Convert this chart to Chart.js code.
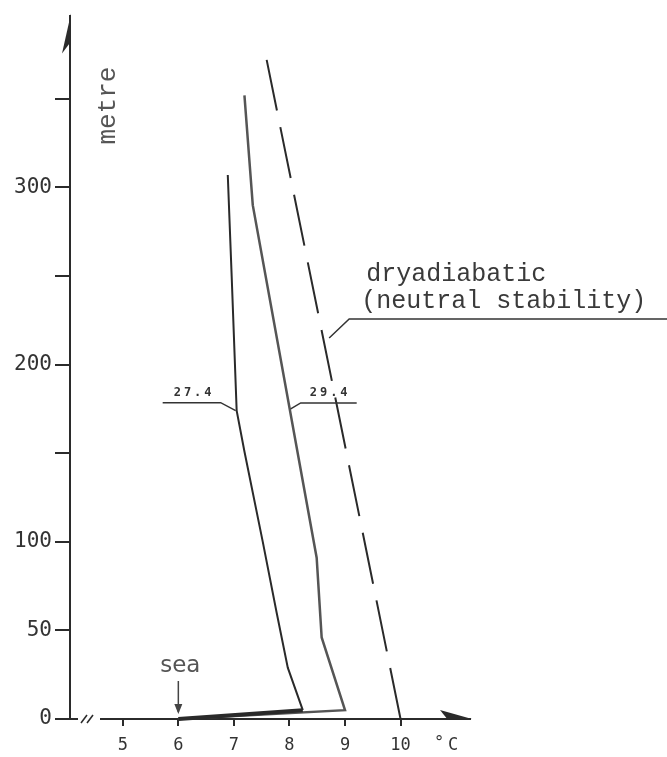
<!DOCTYPE html>
<html>
<head>
<meta charset="utf-8">
<script src="https://cdn.jsdelivr.net/npm/chart.js@4.4.1/dist/chart.umd.min.js"></script>
<style>
  html, body { margin: 0; padding: 0; background: #fff; }
  canvas { display: block; }
</style>
</head>
<body>
<canvas id="profile" width="667" height="757"></canvas>
<script>
// temperature profiles over the sea, height in metres
const seaTemp = 6;
const heights274 = [0, 5, 29, 60, 100, 151, 174, 250, 307];
const temps274 = [6.0, 8.24, 7.97, 7.77, 7.52, 7.19, 7.05, 6.96, 6.89];
const heights294 = [0, 5, 46, 91, 290, 352];
const temps294 = [6.0, 9.0, 8.58, 8.49, 7.34, 7.19];
const heightsDry = [0, 372];
const tempsDry = [10.0, 7.59];

const curveLabels = ["27.4", "29.4"];
const labelHeights = [174, 175];
const dryLabel = ["dryadiabatic", "(neutral stability)"];
const dryLabelHeight = 215;

const xTickValues = [5, 6, 7, 8, 9, 10];
const yTicksShown = [0, 50, 100, 200, 300];

const ink = "#2b2b2b";

function pts(temps, heights) {
    return temps.map((t, i) => ({ x: t, y: heights[i] }));
}

// temperature on a profile at a given height
function tempAt(temps, heights, h) {
    for (let i = 1; i < heights.length; i++) {
        if (h <= heights[i]) {
            const f = (h - heights[i - 1]) / (heights[i] - heights[i - 1]);
            return temps[i - 1] + f * (temps[i] - temps[i - 1]);
        }
    }
    return temps[temps.length - 1];
}

const extras = {
    id: "extras",
    afterDraw(chart) {
        const { ctx, chartArea: a, scales: { x, y } } = chart;
        ctx.save();

        // break in the temperature axis
        ctx.fillStyle = "#fff";
        ctx.fillRect(a.left + 8, a.bottom - 3, 22, 6);
        ctx.strokeStyle = ink;
        ctx.lineWidth = 1.5;
        [a.left + 14, a.left + 20].forEach(px => {
            ctx.beginPath();
            ctx.moveTo(px - 3, a.bottom + 4);
            ctx.lineTo(px + 3, a.bottom - 4);
            ctx.stroke();
        });

        // axis arrows
        ctx.fillStyle = ink;
        ctx.beginPath();
        ctx.moveTo(a.left + 1, a.top - 2);
        ctx.lineTo(a.left - 8, a.top + 38);
        ctx.lineTo(a.left + 1, a.top + 26);
        ctx.closePath();
        ctx.fill();
        ctx.beginPath();
        ctx.moveTo(a.right + 2, a.bottom);
        ctx.lineTo(a.right - 30, a.bottom - 9);
        ctx.lineTo(a.right - 22, a.bottom + 1);
        ctx.closePath();
        ctx.fill();

        // unit of the temperature axis
        ctx.fillStyle = "#333";
        ctx.font = "17px 'DejaVu Sans Mono'";
        ctx.textAlign = "left";
        ctx.textBaseline = "middle";
        ctx.fillText("°", a.right - 36, a.bottom + 25);
        ctx.fillText("C", a.right - 22, a.bottom + 27);

        // vertical axis title
        ctx.save();
        ctx.translate(a.left + 38, a.top + 90);
        ctx.rotate(-Math.PI / 2);
        ctx.fillStyle = "#555";
        ctx.font = "26px 'Liberation Mono'";
        ctx.textAlign = "center";
        ctx.fillText("metre", 0, 0);
        ctx.restore();

        // sea surface temperature marker
        const sx = x.getPixelForValue(seaTemp);
        ctx.fillStyle = "#555";
        ctx.font = "23px 'DejaVu Sans'";
        ctx.textAlign = "center";
        ctx.fillText("sea", sx + 2, a.bottom - 53);
        ctx.strokeStyle = "#444";
        ctx.lineWidth = 1.5;
        ctx.beginPath();
        ctx.moveTo(sx, a.bottom - 38);
        ctx.lineTo(sx, a.bottom - 7);
        ctx.stroke();
        ctx.fillStyle = "#444";
        ctx.beginPath();
        ctx.moveTo(sx, a.bottom - 5);
        ctx.lineTo(sx - 4, a.bottom - 15);
        ctx.lineTo(sx + 4, a.bottom - 15);
        ctx.closePath();
        ctx.fill();

        // curve labels with leaders
        ctx.font = "bold 12px 'DejaVu Sans Mono'";
        ctx.letterSpacing = "3px";
        ctx.strokeStyle = "#333";
        ctx.lineWidth = 1.5;
        ctx.fillStyle = "#333";

        const h0 = labelHeights[0];
        const p0x = x.getPixelForValue(tempAt(temps274, heights274, h0));
        const p0y = y.getPixelForValue(h0);
        ctx.beginPath();
        ctx.moveTo(p0x - 1, p0y);
        ctx.lineTo(p0x - 16, p0y - 8);
        ctx.lineTo(p0x - 74, p0y - 8);
        ctx.stroke();
        ctx.textAlign = "left";
        ctx.fillText(curveLabels[0], p0x - 63, p0y - 18);

        const h1 = labelHeights[1];
        const p1x = x.getPixelForValue(tempAt(temps294, heights294, h1));
        const p1y = y.getPixelForValue(h1);
        ctx.beginPath();
        ctx.moveTo(p1x + 1, p1y);
        ctx.lineTo(p1x + 11, p1y - 6);
        ctx.lineTo(p1x + 67, p1y - 6);
        ctx.stroke();
        ctx.fillText(curveLabels[1], p1x + 20, p1y - 16);
        ctx.letterSpacing = "0px";

        // dry adiabatic label
        const dx = x.getPixelForValue(tempAt(tempsDry, heightsDry, dryLabelHeight)) + 6;
        const dy = y.getPixelForValue(dryLabelHeight);
        ctx.beginPath();
        ctx.moveTo(dx, dy);
        ctx.lineTo(dx + 20, dy - 19);
        ctx.lineTo(chart.width, dy - 19);
        ctx.stroke();
        ctx.fillStyle = "#3a3a3a";
        ctx.font = "25px 'Liberation Mono'";
        ctx.textAlign = "left";
        ctx.fillText(dryLabel[0], dx + 37, dy - 64);
        ctx.fillText(dryLabel[1], dx + 32, dy - 37);

        ctx.restore();
    }
};

Chart.defaults.font.family = "'DejaVu Sans Mono'";
Chart.defaults.color = "#333";

new Chart(document.getElementById("profile"), {
    type: "scatter",
    data: {
        datasets: [
            {
                label: curveLabels[0],
                data: pts(temps274, heights274),
                showLine: true,
                borderColor: "#2a2a2a",
                borderWidth: 2,
                segment: {
                    borderWidth: c => (c.p0DataIndex === 0 ? 4 : 2)
                },
                pointRadius: 0,
                clip: false
            },
            {
                label: curveLabels[1],
                data: pts(temps294, heights294),
                showLine: true,
                borderColor: "#555",
                borderWidth: 2.5,
                pointRadius: 0,
                clip: false
            },
            {
                label: dryLabel[0],
                data: pts(tempsDry, heightsDry),
                showLine: true,
                borderColor: "#2a2a2a",
                borderWidth: 2,
                borderDash: [52, 17],
                pointRadius: 0,
                clip: false
            }
        ]
    },
    options: {
        responsive: false,
        animation: false,
        layout: {
            padding: { top: 8, right: 197, bottom: 0, left: 0 }
        },
        plugins: {
            legend: { display: false },
            tooltip: { enabled: false }
        },
        scales: {
            x: {
                type: "linear",
                min: 4.05,
                max: 11.25,
                afterBuildTicks: s => {
                    s.ticks = xTickValues.map(v => ({ value: v }));
                },
                afterFit: s => {
                    s.height = 38;
                },
                ticks: {
                    autoSkip: false,
                    font: { size: 17 },
                    padding: 9,
                    color: "#333"
                },
                grid: {
                    display: true,
                    drawOnChartArea: false,
                    drawTicks: true,
                    tickLength: 7,
                    color: ink,
                    lineWidth: 2
                },
                border: { display: true, color: ink, width: 2 }
            },
            y: {
                type: "linear",
                min: 0,
                max: 397,
                afterFit: s => {
                    s.width = 70;
                },
                ticks: {
                    autoSkip: false,
                    stepSize: 50,
                    includeBounds: false,
                    font: { size: 21 },
                    padding: 3,
                    color: "#333",
                    callback: v => (yTicksShown.includes(v) ? String(v) : "")
                },
                grid: {
                    display: true,
                    drawOnChartArea: false,
                    drawTicks: true,
                    tickLength: 15,
                    color: ink,
                    lineWidth: 2
                },
                border: { display: true, color: ink, width: 2 }
            }
        }
    },
    plugins: [extras]
});
</script>
</body>
</html>
